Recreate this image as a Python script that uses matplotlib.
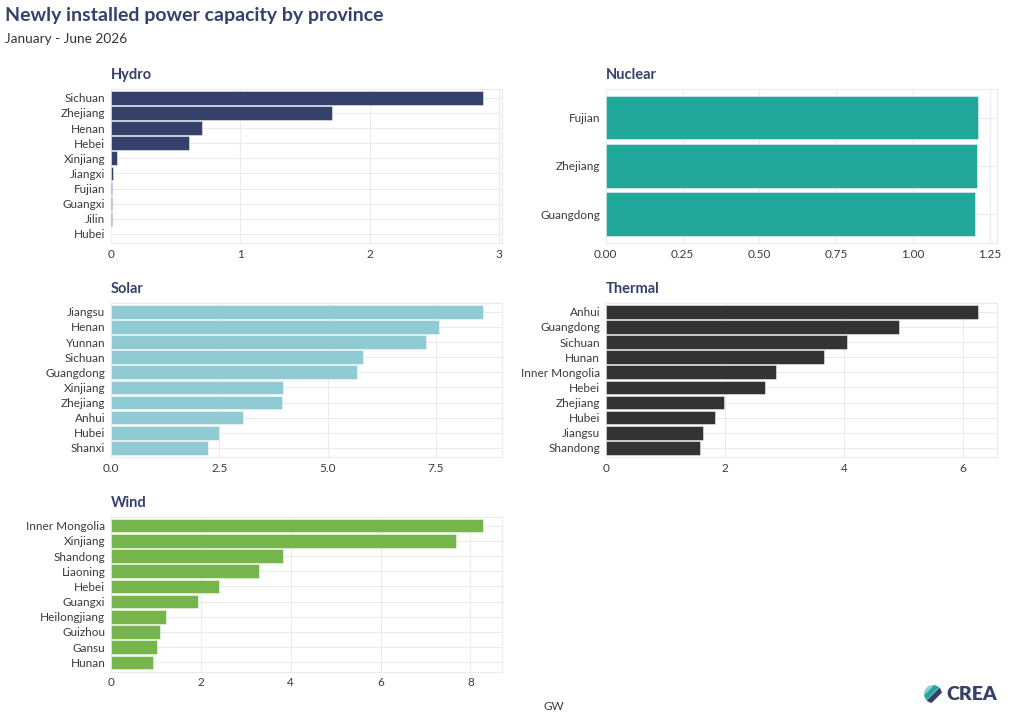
import matplotlib.pyplot as plt
from matplotlib.patches import Circle, Polygon

plt.rcParams['font.family'] = ['Lato', 'DejaVu Sans']

# values, GW
hydro_provinces = ['Sichuan', 'Zhejiang', 'Henan', 'Hebei', 'Xinjiang', 'Jiangxi', 'Fujian', 'Guangxi', 'Jilin', 'Hubei']
hydro_gw = [2.88, 1.71, 0.70, 0.60, 0.05, 0.012, 0.011, 0.006, 0.005, 0.001]

nuclear_provinces = ['Fujian', 'Zhejiang', 'Guangdong']
nuclear_gw = [1.211, 1.208, 1.201]

solar_provinces = ['Jiangsu', 'Henan', 'Yunnan', 'Sichuan', 'Guangdong', 'Xinjiang', 'Zhejiang', 'Anhui', 'Hubei', 'Shanxi']
solar_gw = [8.60, 7.57, 7.28, 5.81, 5.68, 3.97, 3.96, 3.05, 2.49, 2.25]

thermal_provinces = ['Anhui', 'Guangdong', 'Sichuan', 'Hunan', 'Inner Mongolia', 'Hebei', 'Zhejiang', 'Hubei', 'Jiangsu', 'Shandong']
thermal_gw = [6.25, 4.93, 4.05, 3.67, 2.86, 2.67, 1.98, 1.84, 1.64, 1.59]

wind_provinces = ['Inner Mongolia', 'Xinjiang', 'Shandong', 'Liaoning', 'Hebei', 'Guangxi', 'Heilongjiang', 'Guizhou', 'Gansu', 'Hunan']
wind_gw = [8.29, 7.69, 3.82, 3.30, 2.40, 1.93, 1.22, 1.10, 1.02, 0.94]

hydro_ticks = [0, 1, 2, 3]
nuclear_ticks = [0, 0.25, 0.5, 0.75, 1.0, 1.25]
solar_ticks = [0, 2.5, 5.0, 7.5]
thermal_ticks = [0, 2, 4, 6]
wind_ticks = [0, 2, 4, 6, 8]

NAVY = '#35406b'
W, H = 1024, 717

fig = plt.figure(figsize=(W / 100, H / 100), dpi=100)
fig.patch.set_facecolor('white')

def px_rect(left, top, right, bottom):
    return [left / W, 1 - bottom / H, (right - left) / W, (bottom - top) / H]

panels = [
    ('Hydro', hydro_provinces, hydro_gw, hydro_ticks, '{:.0f}', '#35406b', (111, 88.7, 502, 243)),
    ('Nuclear', nuclear_provinces, nuclear_gw, nuclear_ticks, '{:.2f}', '#22a79b', (605.7, 88.7, 996.7, 243)),
    ('Solar', solar_provinces, solar_gw, solar_ticks, '{:.1f}', '#90cad2', (111, 302.7, 502, 457)),
    ('Thermal', thermal_provinces, thermal_gw, thermal_ticks, '{:.0f}', '#333333', (605.7, 302.7, 996.7, 457)),
    ('Wind', wind_provinces, wind_gw, wind_ticks, '{:.0f}', '#76b44c', (111, 516.5, 502, 671.5)),
]

for name, provs, vals, ticks, fmt, color, box in panels:
    ax = fig.add_axes(px_rect(*box))
    n = len(provs)
    ypos = list(range(n))
    ax.barh(ypos, vals, height=0.9, color=color, edgecolor=(1, 1, 1, 0.55), linewidth=0.6, zorder=3)
    ax.set_xlim(0, max(vals) * 1.05)
    ax.set_ylim(n - 0.4, -0.6)
    ax.set_yticks(ypos)
    ax.set_yticklabels(provs)
    ax.set_xticks(ticks)
    ax.set_xticklabels([fmt.format(t) for t in ticks])
    ax.tick_params(length=0, labelsize=8.5, labelcolor='#3a3a3a', pad=4)
    ax.grid(True, color='#ebebeb', linewidth=0.8, zorder=0)
    ax.set_axisbelow(True)
    for sp in ax.spines.values():
        sp.set_color('#ebebeb')
        sp.set_linewidth(0.8)
    ax.text(0, 1.045, name, transform=ax.transAxes, fontsize=10.5, fontweight='bold',
            color=NAVY, ha='left', va='bottom')

fig.text(5 / W, 1 - 15 / H, 'Newly installed power capacity by province', fontsize=14,
         fontweight='bold', color=NAVY, ha='left', va='center')
fig.text(5 / W, 1 - 39 / H, 'January - June 2026', fontsize=9.8, color='#333333',
         ha='left', va='center')
fig.text(554 / W, 1 - 706 / H, 'GW', fontsize=8.5, color='#3a3a3a', ha='center', va='center')

# CREA logo
fig.text(946 / W, 1 - 694 / H, 'CREA', fontsize=14, fontweight='heavy', color=NAVY,
         ha='left', va='center')
lax = fig.add_axes(px_rect(924, 685, 942, 703))
lax.set_xlim(-1, 1)
lax.set_ylim(-1, 1)
lax.set_aspect('equal')
lax.axis('off')
clip = Circle((0, 0), 1, transform=lax.transData)
band_colors = ['#76b44c', 'white', NAVY, '#22a79b', '#90cad2']
offsets = [0.75, 0.35, 0.0, -0.45, -0.85]
for c, o in zip(band_colors, offsets):
    w = 0.42
    pts = [(-2 + o, -2 - o), (2 + o, 2 - o), (2 + o + w, 2 - o - w), (-2 + o + w, -2 - o - w)]
    p = Polygon(pts, closed=True, facecolor=c, edgecolor='none')
    p.set_clip_path(clip)
    lax.add_patch(p)

fig.savefig('out.png', dpi=100)
